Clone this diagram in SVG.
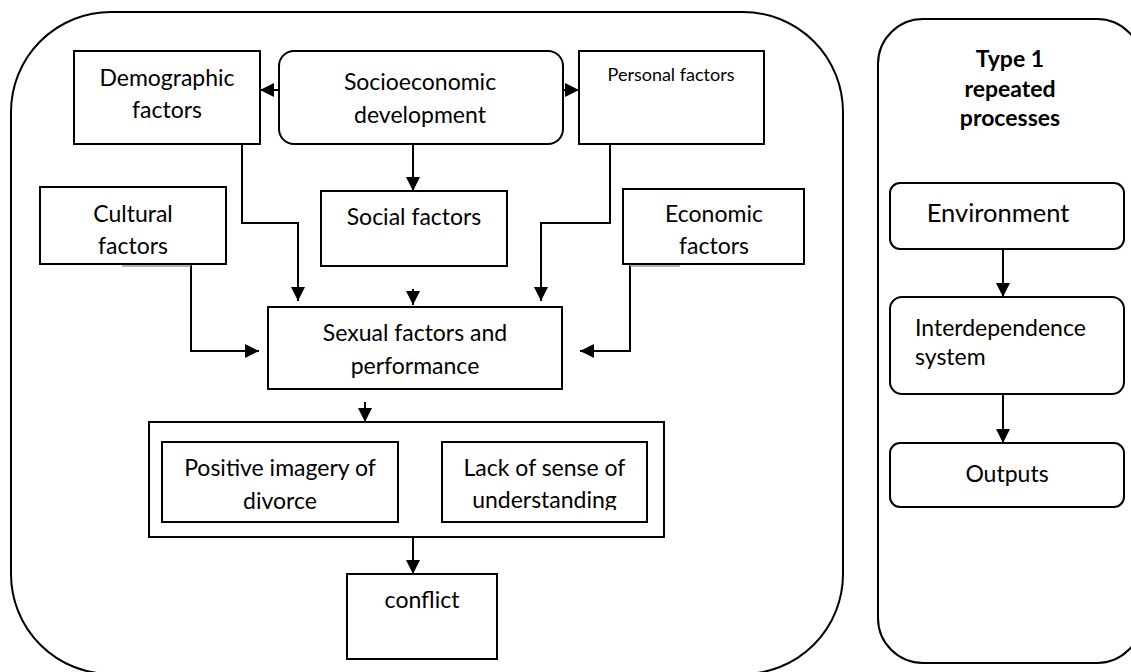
<svg xmlns="http://www.w3.org/2000/svg" width="1131" height="672" viewBox="0 0 1131 672">
<defs>
<style>
.box{fill:#fff;stroke:#000;stroke-width:2}
.panel{fill:none;stroke:#000;stroke-width:2}
.ln{fill:none;stroke:#000;stroke-width:2}
.faint{fill:none;stroke:#999;stroke-width:1.5}
text{font-family:Lato,"Liberation Sans",sans-serif;font-size:23px;fill:#000;text-anchor:middle}
.small{font-size:18px}
.bold{font-weight:bold;font-size:23px}
.big{font-size:25.5px}
.left{text-anchor:start}
</style>
<marker id="ah" viewBox="0 0 10 10" refX="10" refY="5" markerUnits="userSpaceOnUse" markerWidth="14" markerHeight="14" orient="auto">
<path d="M0,0 L10,5 L0,10 z" fill="#000"/>
</marker>
<clipPath id="clipLack"><rect x="440" y="440" width="210" height="70"/></clipPath>
</defs>
<rect width="1131" height="672" fill="#fff"/>

<g id="main-panel"><rect class="panel" x="11" y="12" width="832" height="662" rx="100" ry="100"/></g>
<g id="right-panel"><rect class="panel" x="878" y="19" width="264" height="644" rx="45" ry="45"/>
<text class="bold" x="1010" y="67">Type 1</text>
<text class="bold" x="1010" y="97">repeated</text>
<text class="bold" x="1010" y="126">processes</text>
</g>

<g id="connectors">
<path class="ln" d="M279,90 H260" marker-end="url(#ah)"/>
<path class="ln" d="M563,90 H579" marker-end="url(#ah)"/>
<path class="ln" d="M413,144 V191" marker-end="url(#ah)"/>
<path class="ln" d="M242,144 V223 H298 V301" marker-end="url(#ah)"/>
<path class="ln" d="M610,144 V223 H541 V301" marker-end="url(#ah)"/>
<path class="ln" d="M413,289 V305" marker-end="url(#ah)"/>
<path class="ln" d="M191,265 V351 H259" marker-end="url(#ah)"/>
<path class="ln" d="M630,265 V351 H580" marker-end="url(#ah)"/>
<path class="faint" d="M122,266 H191"/>
<path class="faint" d="M630,266 H680"/>
<path class="ln" d="M365,402 V422" marker-end="url(#ah)"/>
<path class="ln" d="M442,488 H399" marker-end="url(#ah)"/>
<path class="ln" d="M413,538 V574" marker-end="url(#ah)"/>
<path class="ln" d="M1003,249 V297" marker-end="url(#ah)"/>
<path class="ln" d="M1003,394 V443" marker-end="url(#ah)"/>
</g>

<g id="demographic"><rect class="box" x="74" y="51" width="186" height="93"/>
<text x="167" y="86">Demographic</text><text x="167" y="118">factors</text></g>
<g id="socioeconomic"><rect class="box" x="279" y="51" width="284" height="93" rx="15" ry="15"/>
<text x="420" y="90">Socioeconomic</text><text x="420" y="123">development</text></g>
<g id="personal"><rect class="box" x="579" y="51" width="185" height="93"/>
<text class="small" x="671" y="81">Personal factors</text></g>
<g id="cultural"><rect class="box" x="40" y="187" width="186" height="77"/>
<text x="133" y="222">Cultural</text><text x="133" y="254">factors</text></g>
<g id="social"><rect class="box" x="321" y="191" width="186" height="75"/>
<text x="414" y="225">Social factors</text></g>
<g id="economic"><rect class="box" x="623" y="189" width="181" height="75"/>
<text x="714" y="222">Economic</text><text x="714" y="254">factors</text></g>
<g id="sexual"><rect class="box" x="268" y="307" width="294" height="82"/>
<text x="415" y="341">Sexual factors and</text><text x="415" y="374">performance</text></g>
<g id="group"><rect class="box" x="149" y="422" width="515" height="115"/></g>
<g id="positive"><rect class="box" x="162" y="442" width="236" height="80"/>
<text x="280" y="476">Positive imagery of</text><text x="280" y="509">divorce</text></g>
<g id="lack"><rect class="box" x="442" y="442" width="205" height="80"/>
<g clip-path="url(#clipLack)"><text x="544.5" y="476">Lack of sense of</text><text x="544.5" y="508">understanding</text></g></g>
<g id="conflict"><rect class="box" x="347" y="574" width="150" height="85"/>
<text x="422" y="608">conflict</text></g>

<g id="environment"><rect class="box" x="890" y="183" width="234" height="66" rx="10" ry="10"/>
<text class="big" x="998" y="222">Environment</text></g>
<g id="interdependence"><rect class="box" x="890" y="297" width="234" height="97" rx="12" ry="12"/>
<text class="left" x="915" y="336">Interdependence</text><text class="left" x="915" y="365">system</text></g>
<g id="outputs"><rect class="box" x="890" y="443" width="234" height="64" rx="10" ry="10"/>
<text x="1007" y="482">Outputs</text></g>
</svg>
